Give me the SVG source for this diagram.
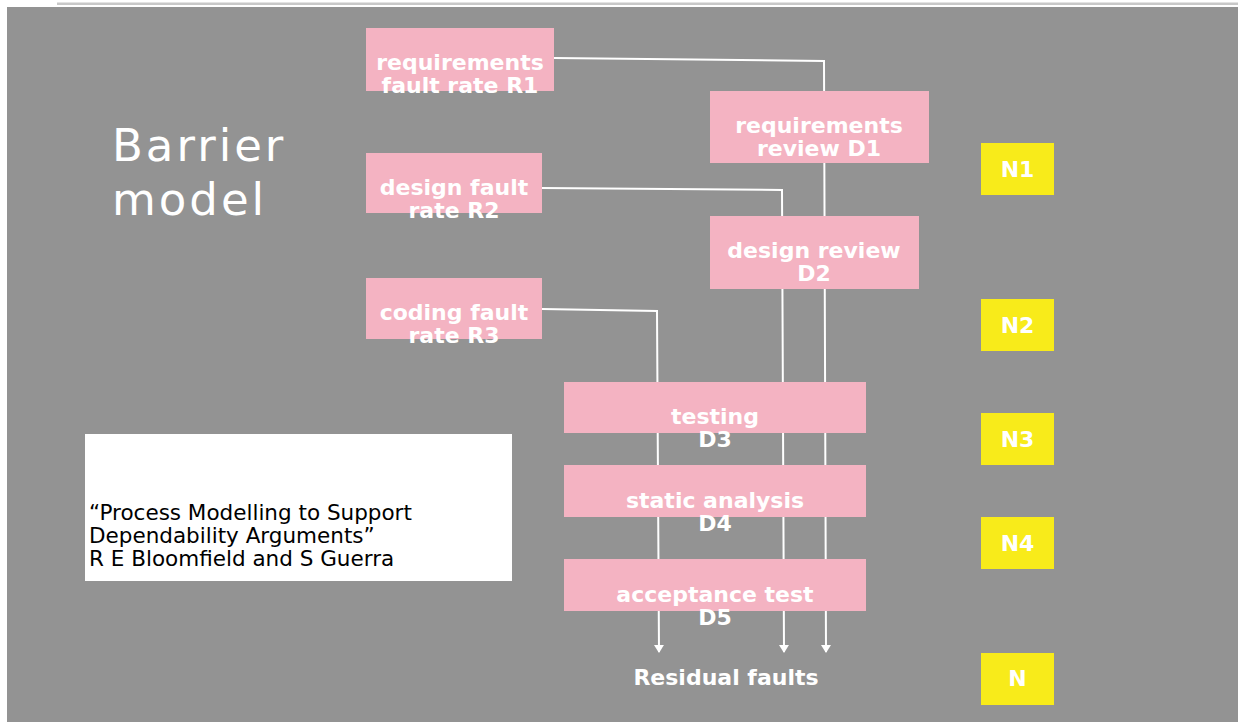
<svg xmlns="http://www.w3.org/2000/svg" width="1238" height="722" viewBox="0 0 1238 722">
  <style>
    .stage { fill: #939393; }
    .step { fill: #f4b3c2; }
    .count { fill: #f8eb1a; }
    .label { font-family: "DejaVu Sans", "Liberation Sans", sans-serif; font-weight: bold; font-size: 22px; fill: #ffffff; text-anchor: middle; }
    .flow { fill: none; stroke: #ffffff; stroke-width: 2; marker-end: url(#arrow); }
    .title { font-family: "DejaVu Sans", "Liberation Sans", sans-serif; font-size: 45px; letter-spacing: 3px; fill: #ffffff; }
    .cite { font-family: "DejaVu Sans", "Liberation Sans", sans-serif; font-size: 21.5px; fill: #000000; }
  </style>
  <defs>
    <marker id="arrow" viewBox="0 0 8 10" refX="7" refY="5" markerWidth="4" markerHeight="5" orient="auto" markerUnits="strokeWidth">
      <path d="M0,0 L8,5 L0,10 z" fill="#ffffff"/>
    </marker>
  </defs>

  <!-- page -->
  <rect x="0" y="0" width="1238" height="722" fill="#ffffff"/>
  <rect x="57" y="2.5" width="1181" height="2.5" fill="#c8c8c8"/>
  <rect class="stage" x="7" y="7" width="1231" height="715"/>

  <!-- title -->
  <g id="title">
    <text class="title" x="112" y="161">Barrier</text>
    <text class="title" x="112" y="215">model</text>
  </g>

  <!-- fault flows, drawn beneath the boxes -->
  <g id="connectors">
    <polyline class="flow" points="554,58 824,61 826,652"/>
    <polyline class="flow" points="542,188 782,190 784,652"/>
    <polyline class="flow" points="542,309 657,311 659,652"/>
  </g>

  <!-- fault sources -->
  <g id="r1">
    <rect class="step" x="366" y="28" width="188" height="63"/>
    <text class="label" x="460" y="70">requirements</text>
    <text class="label" x="460" y="93">fault rate R1</text>
  </g>
  <g id="r2">
    <rect class="step" x="366" y="153" width="176" height="60"/>
    <text class="label" x="454" y="195">design fault</text>
    <text class="label" x="454" y="218">rate R2</text>
  </g>
  <g id="r3">
    <rect class="step" x="366" y="278" width="176" height="61"/>
    <text class="label" x="454" y="320">coding fault</text>
    <text class="label" x="454" y="343">rate R3</text>
  </g>

  <!-- barriers -->
  <g id="d1">
    <rect class="step" x="710" y="91" width="219" height="72"/>
    <text class="label" x="819" y="133">requirements</text>
    <text class="label" x="819" y="156">review D1</text>
  </g>
  <g id="d2">
    <rect class="step" x="710" y="216" width="209" height="73"/>
    <text class="label" x="814" y="258">design review</text>
    <text class="label" x="814" y="281">D2</text>
  </g>
  <g id="d3">
    <rect class="step" x="564" y="382" width="302" height="51"/>
    <text class="label" x="715" y="424">testing</text>
    <text class="label" x="715" y="447">D3</text>
  </g>
  <g id="d4">
    <rect class="step" x="564" y="465" width="302" height="52"/>
    <text class="label" x="715" y="508">static analysis</text>
    <text class="label" x="715" y="531">D4</text>
  </g>
  <g id="d5">
    <rect class="step" x="564" y="559" width="302" height="52"/>
    <text class="label" x="715" y="602">acceptance test</text>
    <text class="label" x="715" y="625">D5</text>
  </g>

  <g id="residual">
    <text class="label" x="726" y="685" font-size="21.5">Residual faults</text>
  </g>

  <!-- fault counts -->
  <g id="n1">
    <rect class="count" x="981" y="143" width="73" height="52"/>
    <text class="label" x="1017.5" y="177">N1</text>
  </g>
  <g id="n2">
    <rect class="count" x="981" y="299" width="73" height="52"/>
    <text class="label" x="1017.5" y="333">N2</text>
  </g>
  <g id="n3">
    <rect class="count" x="981" y="413" width="73" height="52"/>
    <text class="label" x="1017.5" y="447">N3</text>
  </g>
  <g id="n4">
    <rect class="count" x="981" y="517" width="73" height="52"/>
    <text class="label" x="1017.5" y="551">N4</text>
  </g>
  <g id="n">
    <rect class="count" x="981" y="653" width="73" height="52"/>
    <text class="label" x="1017.5" y="686">N</text>
  </g>

  <!-- reference -->
  <g id="citation">
    <rect x="85" y="434" width="427" height="147" fill="#ffffff"/>
    <text class="cite" x="89" y="520">“Process Modelling to Support</text>
    <text class="cite" x="89" y="543">Dependability Arguments”</text>
    <text class="cite" x="89" y="566">R E Bloomfield and S Guerra</text>
  </g>
</svg>
